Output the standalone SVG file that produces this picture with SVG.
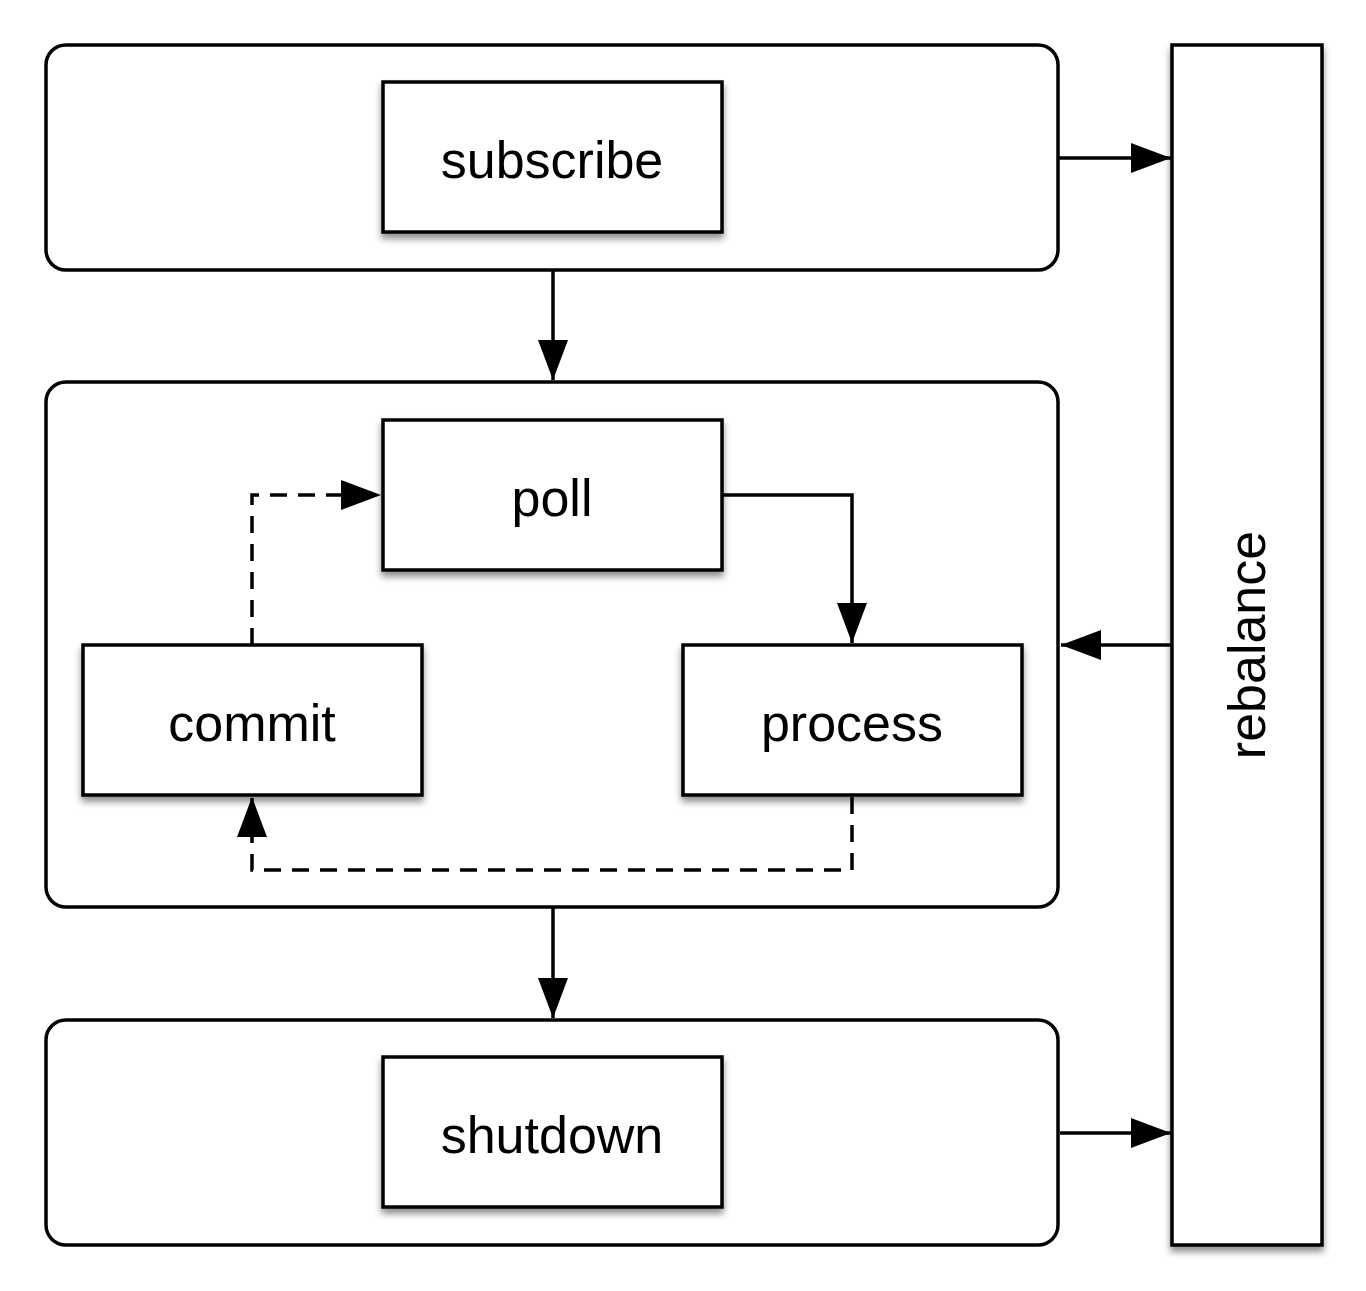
<svg xmlns="http://www.w3.org/2000/svg" width="1366" height="1291" viewBox="0 0 1366 1291">
<defs>
<filter id="sh" x="-10%" y="-10%" width="120%" height="130%">
<feDropShadow dx="0" dy="5" stdDeviation="3.5" flood-color="#000" flood-opacity="0.45"/>
</filter>
<marker id="ah" markerWidth="40" markerHeight="30" refX="40" refY="15" orient="auto" markerUnits="userSpaceOnUse">
<path d="M0,0 L40,15 L0,30 Z" fill="#000"/>
</marker>
<style>
.grp{fill:#fff;stroke:#000;stroke-width:3.5}
.box{fill:#fff;stroke:#000;stroke-width:3.5;filter:url(#sh)}
.lbl{font-family:"Liberation Sans",Arial,sans-serif;font-size:52px;fill:#000;text-anchor:middle}
.c{fill:none;stroke:#000;stroke-width:3.5}
.d{stroke-dasharray:17,11}
</style>
</defs>
<rect width="1366" height="1291" fill="#fff"/>
<g id="group-top"><rect class="grp" x="46" y="45" width="1012" height="225" rx="20"/></g>
<g id="group-middle"><rect class="grp" x="46" y="382" width="1012" height="525" rx="20"/></g>
<g id="group-bottom"><rect class="grp" x="46" y="1020" width="1012" height="225" rx="20"/></g>
<g id="rebalance"><rect class="box" x="1172" y="45" width="150" height="1200"/>
<text class="lbl" transform="translate(1265,645) rotate(-90)">rebalance</text></g>
<g id="subscribe"><rect class="box" x="383" y="82" width="339" height="150"/><text class="lbl" x="552" y="178">subscribe</text></g>
<g id="poll"><rect class="box" x="383" y="420" width="339" height="150"/><text class="lbl" x="552" y="516">poll</text></g>
<g id="commit"><rect class="box" x="83" y="645" width="339" height="150"/><text class="lbl" x="252" y="741">commit</text></g>
<g id="process"><rect class="box" x="683" y="645" width="339" height="150"/><text class="lbl" x="852" y="741">process</text></g>
<g id="shutdown"><rect class="box" x="383" y="1057" width="339" height="150"/><text class="lbl" x="552" y="1153">shutdown</text></g>
<g id="connectors">
<path class="c" d="M553,270 L553,380" marker-end="url(#ah)"/>
<path class="c" d="M553,907 L553,1018" marker-end="url(#ah)"/>
<path class="c" d="M1058,158 L1171,158" marker-end="url(#ah)"/>
<path class="c" d="M1172,645 L1061,645" marker-end="url(#ah)"/>
<path class="c" d="M1060,1133 L1171,1133" marker-end="url(#ah)"/>
<path class="c" d="M722,495 L852,495 L852,643" marker-end="url(#ah)"/>
<path class="c d" d="M852,797 L852,870 L252,870 L252,797" marker-end="url(#ah)"/>
<path class="c d" d="M252,645 L252,495 L381,495" marker-end="url(#ah)"/>
</g>
</svg>
